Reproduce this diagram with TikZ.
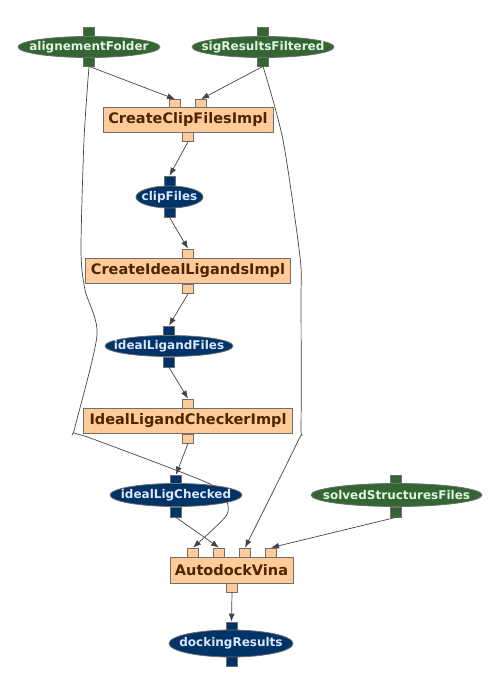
\documentclass[tikz,border=0pt]{standalone}
\usepackage{fontspec}
\setmainfont{DejaVu Sans}
\usetikzlibrary{shapes.geometric,arrows.meta}
\definecolor{gfill}{RGB}{51,102,51}
\definecolor{bfill}{RGB}{0,51,102}
\definecolor{boxfill}{RGB}{255,204,153}
\definecolor{boxtext}{RGB}{77,38,0}
\definecolor{edgec}{RGB}{68,68,68}
\definecolor{bordc}{RGB}{110,110,110}
\definecolor{gtext}{RGB}{224,245,224}
\definecolor{btext}{RGB}{220,230,255}
\tikzset{
  elltext/.style={font=\bfseries\fontsize{12}{14}\selectfont, inner sep=0pt},
  gell/.style={ellipse, draw=bordc, line width=0.8pt, fill=gfill, inner sep=0pt, minimum height=21pt, label={[elltext,text=gtext]center:#1}},
  bell/.style={ellipse, draw=bordc, line width=0.8pt, fill=bfill, inner sep=0pt, minimum height=22pt, label={[elltext,text=btext]center:#1}},
  procbox/.style={rectangle, draw=bordc, line width=1pt, fill=boxfill, text=boxtext, font=\bfseries\fontsize{14.5}{16}\selectfont, inner sep=0pt, minimum height=25pt},
  gport/.style={rectangle, draw=bordc, line width=0.7pt, fill=gfill, minimum width=11pt, minimum height=10pt, inner sep=0pt},
  bport/.style={rectangle, draw=bordc, line width=0.7pt, fill=bfill, minimum width=11pt, minimum height=10pt, inner sep=0pt},
  oport/.style={rectangle, draw=bordc, line width=0.7pt, fill=boxfill, minimum width=11pt, minimum height=9pt, inner sep=0pt},
  conn/.style={draw=edgec, line width=0.7pt, -{Latex[length=8pt,width=6pt]}},
}
\begin{document}
\begin{tikzpicture}[x=1pt,y=-1pt]
\useasboundingbox (0,0) rectangle (500,692);
% ports first
\node[gport] (afT) at (89,32) {};
\node[gport] (afB) at (89,61) {};
\node[gport] (srT) at (263,32) {};
\node[gport] (srB) at (263,61) {};
\node[oport] (ccP1) at (175,104) {};
\node[oport] (ccP2) at (201,104) {};
\node[oport] (ccB) at (188,137) {};
\node[bport] (cfT) at (169.5,181) {};
\node[bport] (cfB) at (169.5,212) {};
\node[oport] (ciT) at (188,253.5) {};
\node[oport] (ciB) at (188,289) {};
\node[bport] (ilT) at (169,331) {};
\node[bport] (ilB) at (169,362) {};
\node[oport] (icT) at (188,403.5) {};
\node[oport] (icB) at (188,438.5) {};
\node[bport] (lcT) at (176,480) {};
\node[bport] (lcB) at (176,512) {};
\node[gport] (ssT) at (396,480) {};
\node[gport] (ssB) at (396,512) {};
\node[oport] (avP1) at (193,552.5) {};
\node[oport] (avP2) at (219,552.5) {};
\node[oport] (avP3) at (245,552.5) {};
\node[oport] (avP4) at (271,552.5) {};
\node[oport] (avB) at (232,587.5) {};
\node[bport] (drT) at (231.5,627) {};
\node[bport] (drB) at (231.5,661) {};
% connectors
\draw[conn] (afB.south) -- (ccP1.north);
\draw[conn] (srB.south) -- (ccP2.north);
\draw[conn] (ccB.south) -- (cfT.north);
\draw[conn] (cfB.south) -- (ciT.north);
\draw[conn] (ciB.south) -- (ilT.north);
\draw[conn] (ilB.south) -- (icT.north);
\draw[conn] (icB.south) -- (lcT.north);
\draw[conn] (lcB.south) -- (avP2.north);
\draw[conn] (ssB.south) -- (avP4.north);
\draw[conn] (avB.south) -- (drT.north);
\draw[conn] plot[smooth, tension=0.45] coordinates {(afB.south) (84,140) (81,250) (85,290) (97,335) (75,427) (74,433) (93,439) (208,483) (226,500) (226,516) (avP1.north)};
\draw[conn] plot[smooth, tension=0.45] coordinates {(srB.south) (283,140) (300,257) (301,300) (301,427) (298,441) (avP3.north)};
% shapes
\node[gell=alignementFolder, minimum width=142pt] (af) at (89,47) {};
\node[gell=sigResultsFiltered, minimum width=142pt] (sr) at (263,47) {};
\node[procbox, minimum width=170pt] (cc) at (188,120) {CreateClipFilesImpl};
\node[bell=clipFiles, minimum width=67pt] (cf) at (169.5,197) {};
\node[procbox, minimum width=205pt] (ci) at (188,271) {CreateIdealLigandsImpl};
\node[bell=idealLigandFiles, minimum width=128pt, minimum height=21pt] (il) at (169,346) {};
\node[procbox, minimum width=209pt] (ic) at (188,421) {IdealLigandCheckerImpl};
\node[bell=idealLigChecked, minimum width=132pt, minimum height=23pt] (lc) at (176,495) {};
\node[gell=solvedStructuresFiles, minimum width=171pt, minimum height=23pt] (ss) at (396.5,495) {};
\node[procbox, minimum width=123pt, minimum height=26pt] (av) at (231.5,570) {AutodockVina};
\node[bell=dockingResults, minimum width=124pt, minimum height=27pt] (dr) at (231,643.5) {};
\end{tikzpicture}
\end{document}
